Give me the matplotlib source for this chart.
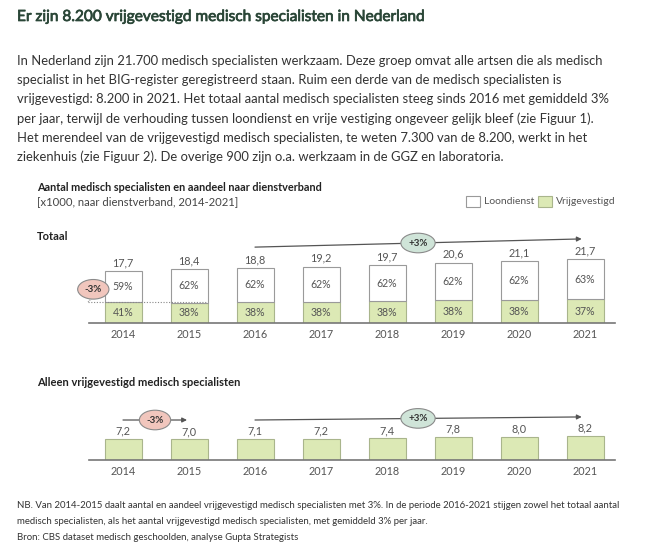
import numpy as np
import matplotlib
matplotlib.use("Agg")
import matplotlib.pyplot as plt
import matplotlib.patheffects as pe

plt.rcParams['font.family'] = ['Lato', 'DejaVu Sans']

years = ['2014', '2015', '2016', '2017', '2018', '2019', '2020', '2021']
totaal = [17.7, 18.4, 18.8, 19.2, 19.7, 20.6, 21.1, 21.7]
pct_vrij = [41, 38, 38, 38, 38, 38, 38, 37]
pct_loon = [59, 62, 62, 62, 62, 62, 62, 63]
vrij = [7.2, 7.0, 7.1, 7.2, 7.4, 7.8, 8.0, 8.2]

title = "Er zijn 8.200 vrijgevestigd medisch specialisten in Nederland"
body = [
    "In Nederland zijn 21.700 medisch specialisten werkzaam. Deze groep omvat alle artsen die als medisch",
    "specialist in het BIG-register geregistreerd staan. Ruim een derde van de medisch specialisten is",
    "vrijgevestigd: 8.200 in 2021. Het totaal aantal medisch specialisten steeg sinds 2016 met gemiddeld 3%",
    "per jaar, terwijl de verhouding tussen loondienst en vrije vestiging ongeveer gelijk bleef (zie Figuur 1).",
    "Het merendeel van de vrijgevestigd medisch specialisten, te weten 7.300 van de 8.200, werkt in het",
    "ziekenhuis (zie Figuur 2). De overige 900 zijn o.a. werkzaam in de GGZ en laboratoria.",
]
notes = [
    "NB. Van 2014-2015 daalt aantal en aandeel vrijgevestigd medisch specialisten met 3%. In de periode 2016-2021 stijgen zowel het totaal aantal",
    "medisch specialisten, als het aantal vrijgevestigd medisch specialisten, met gemiddeld 3% per jaar.",
    "Bron: CBS dataset medisch geschoolden, analyse Gupta Strategists",
]

W, H = 648, 545
green = '#dce9b5'
green_edge = '#a9b58c'
grey_edge = '#9a9a9a'
txt = '#555555'

fig = plt.figure(figsize=(W / 100, H / 100), dpi=100)

def ftext(x, y, s, **kw):
    return fig.text(x / W, 1 - y / H, s, **kw)

t = ftext(17, 17, title, fontsize=11.1, color='#2a4637', va='center')
t.set_path_effects([pe.withStroke(linewidth=0.5, foreground='#2a4637')])
for i, line in enumerate(body):
    ftext(17, 61 + i * 19.2, line, fontsize=9.4, color='#333333', va='center')

ftext(37, 187, "Aantal medisch specialisten en aandeel naar dienstverband",
      fontsize=7.8, fontweight='bold', color='#222222', va='center')
ftext(37, 202, "[x1000, naar dienstverband, 2014-2021]", fontsize=8.1, color='#444444', va='center')
ftext(37, 236, "Totaal", fontsize=8, fontweight='bold', color='#222222', va='center')
ftext(37, 382, "Alleen vrijgevestigd medisch specialisten",
      fontsize=8, fontweight='bold', color='#222222', va='center')

# legend
fig.patches.append(plt.Rectangle((466 / W, 1 - 207 / H), 14 / W, 11 / H, transform=fig.transFigure,
                                 facecolor='white', edgecolor=grey_edge, lw=0.8))
ftext(484, 202, "Loondienst", fontsize=7.5, color=txt, va='center')
fig.patches.append(plt.Rectangle((538 / W, 1 - 207 / H), 14 / W, 11 / H, transform=fig.transFigure,
                                 facecolor=green, edgecolor=green_edge, lw=0.8))
ftext(556, 202, "Vrijgevestigd", fontsize=7.5, color=txt, va='center')

for i, line in enumerate(notes):
    ftext(17, 505 + i * 16, line, fontsize=6.9, color='#333333', va='center')

scale = 2.93  # px per unit
x0, x1 = 89, 615
step, c0 = 66, 123
xlim = ((x0 - c0) / step, (x1 - c0) / step)

def make_ax(base, top):
    ax = fig.add_axes([x0 / W, 1 - base / H, (x1 - x0) / W, (base - top) / H])
    ax.set_xlim(*xlim)
    ax.set_ylim(0, (base - top) / scale)
    for s in ['top', 'right', 'left']:
        ax.spines[s].set_visible(False)
    ax.spines['bottom'].set_color('#777777')
    ax.spines['bottom'].set_linewidth(1.2)
    ax.set_yticks([])
    ax.set_xticks(range(len(years)))
    ax.set_xticklabels(years, fontsize=7.8, color=txt)
    ax.tick_params(axis='x', length=0, pad=4)
    ax.patch.set_visible(False)
    return ax

def pill(ax, x, y, s, fc):
    ax.text(x, y, s, ha='center', va='center', fontsize=7, fontweight='bold', color='#333333',
            bbox=dict(boxstyle='ellipse,pad=0.25', fc=fc, ec='#8a8a8a', lw=0.8), zorder=5, clip_on=False)

def arrow(ax, p0, p1):
    ax.annotate('', xy=p1, xytext=p0, annotation_clip=False,
                arrowprops=dict(arrowstyle='-|>', color='#555555', lw=0.9, mutation_scale=7,
                                shrinkA=0, shrinkB=0))

xs = np.arange(len(years))
bw = 37 / step

# top chart
ax1 = make_ax(323, 228)
v = np.array(totaal) * np.array(pct_vrij) / 100
ax1.bar(xs, v, bw, color=green, edgecolor=green_edge, lw=0.8)
ax1.bar(xs, np.array(totaal) - v, bw, bottom=v, color='white', edgecolor=grey_edge, lw=0.8)
for i in range(len(years)):
    ax1.text(xs[i], totaal[i] + 1.0, f"{totaal[i]:.1f}".replace('.', ','), ha='center', va='bottom',
             fontsize=7.8, color=txt)
    ax1.text(xs[i], v[i] / 2, f"{pct_vrij[i]}%", ha='center', va='center', fontsize=7.6, color=txt)
    ax1.text(xs[i], v[i] + (totaal[i] - v[i]) / 2, f"{pct_loon[i]}%", ha='center', va='center',
             fontsize=7.6, color=txt)
ax1.plot([-0.53, 1.28], [v[0], v[0]], ls=(0, (1, 1.5)), color='#888888', lw=0.8, clip_on=False)
ax1.plot([-0.47, -0.53], [v[0] + 1.2, v[0]], ls=(0, (1, 1)), color='#888888', lw=0.8, clip_on=False)
pill(ax1, -0.45, 11.5, "-3%", '#f1c6bd')
arrow(ax1, (2.0, 25.9), (6.95, 28.7))
pill(ax1, 4.47, 27.3, "+3%", '#cfe4d8')

# bottom chart
ax2 = make_ax(460, 400)
ax2.bar(xs, vrij, bw, color=green, edgecolor=green_edge, lw=0.8)
for i in range(len(years)):
    ax2.text(xs[i], vrij[i] + 0.8, f"{vrij[i]:.1f}".replace('.', ','), ha='center', va='bottom',
             fontsize=7.8, color=txt)
arrow(ax2, (0.0, 13.65), (0.97, 13.65))
pill(ax2, 0.485, 13.65, "-3%", '#f1c6bd')
arrow(ax2, (2.0, 13.65), (6.95, 14.7))
pill(ax2, 4.47, 14.2, "+3%", '#cfe4d8')

fig.savefig('out.png', dpi=100, facecolor='white')
